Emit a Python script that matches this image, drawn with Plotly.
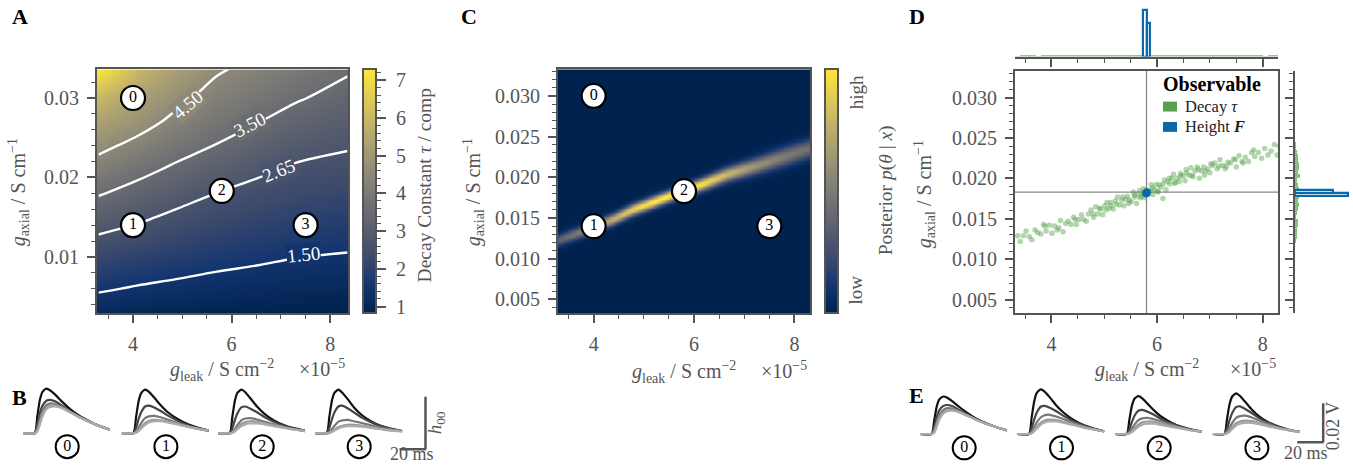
import numpy as np
import plotly.graph_objects as go
from plotly.colors import get_colorscale, sample_colorscale

W, H = 1353, 470
SERIF = "Liberation Serif"
GREY = "#555555"
GREEN = "#55a24a"
BLUE = "#0b68ab"

# ---------------- Panel A: decay constant map ----------------
tau_gleak = [3.3, 4.1, 4.9, 5.7, 6.5, 7.3, 8.35]
tau_gaxial = [0.003, 0.006, 0.009, 0.012, 0.015, 0.018, 0.021, 0.024, 0.027, 0.030, 0.0336]
tau_values = [
    [1.10, 1.00, 0.95, 0.90, 0.87, 0.84, 0.82],
    [1.58, 1.44, 1.34, 1.25, 1.19, 1.13, 1.09],
    [2.04, 1.88, 1.73, 1.60, 1.51, 1.42, 1.36],
    [2.51, 2.33, 2.12, 1.95, 1.82, 1.71, 1.63],
    [3.02, 2.77, 2.50, 2.29, 2.13, 1.99, 1.90],
    [3.56, 3.23, 2.92, 2.64, 2.44, 2.27, 2.17],
    [4.13, 3.72, 3.35, 3.05, 2.78, 2.56, 2.44],
    [4.72, 4.26, 3.81, 3.47, 3.16, 2.88, 2.71],
    [5.30, 4.84, 4.27, 3.83, 3.53, 3.23, 2.98],
    [6.00, 5.20, 4.70, 4.17, 3.86, 3.57, 3.25],
    [7.30, 6.00, 5.20, 4.60, 4.25, 3.95, 3.58],
]
tau_levels = [1.50, 2.65, 3.50, 4.50]
tau_range = [0.82, 7.29]
# contour label placement (g_leak, g_axial, angle in degrees)
label_gleak = [7.46, 6.96, 6.37, 5.11]
label_gaxial = [0.0103, 0.0209, 0.0267, 0.0292]
label_angle = [-6, -22, -27, -40]

# labelled parameter sets
point_labels = ["0", "1", "2", "3"]
point_gleak = [4.0, 4.0, 5.8, 7.5]
point_gaxial = [0.030, 0.014, 0.0183, 0.014]

# ---------------- Panel C: posterior ridge ----------------
ridge_gleak = [3.25, 3.6, 4.0, 4.4, 4.8, 5.2, 5.8, 6.2, 6.65, 7.3, 7.8, 8.4]
ridge_gaxial = [0.0121, 0.0129, 0.0138, 0.0148, 0.0160, 0.0169, 0.0183, 0.0192, 0.0203, 0.0215, 0.0225, 0.0237]
ridge_peak = [0.35, 0.45, 0.60, 0.75, 0.90, 1.00, 1.00, 0.95, 0.80, 0.60, 0.50, 0.42]
ridge_width = [0.0005, 0.0005, 0.0005, 0.0005, 0.0005, 0.0005, 0.0005, 0.00055, 0.0006, 0.0007, 0.0008, 0.0008]

# ---------------- Panel D: posterior samples ----------------
decay_gleak = [3.36, 3.41, 3.47, 3.52, 3.58, 3.63, 3.69, 3.74, 3.80, 3.85,
               3.90, 3.96, 4.01, 4.06, 4.11, 4.17, 4.22, 4.27, 4.32, 4.37,
               4.42, 4.47, 4.52, 4.57, 4.61, 4.66, 4.70, 4.75, 4.79, 4.84,
               4.88, 4.93, 4.97, 5.01, 5.05, 5.09, 5.13, 5.17, 5.21, 5.25,
               5.29, 5.33, 5.37, 5.41, 5.44, 5.48, 5.51, 5.55, 5.58, 5.61,
               5.64, 5.67, 5.70, 5.73, 5.76, 5.79, 5.83, 5.86, 5.89, 5.92,
               5.95, 5.98, 6.01, 6.04, 6.07, 6.11, 6.14, 6.17, 6.21, 6.24,
               6.28, 6.31, 6.35, 6.38, 6.42, 6.45, 6.49, 6.53, 6.56, 6.60,
               6.64, 6.68, 6.72, 6.76, 6.80, 6.84, 6.88, 6.92, 6.96, 7.00,
               7.05, 7.09, 7.14, 7.19, 7.24, 7.29, 7.34, 7.39, 7.45, 7.50,
               7.55, 7.61, 7.67, 7.73, 7.79, 7.85, 7.92, 7.98, 8.04, 8.10,
               8.16, 8.22, 8.27, 8.31,
               5.03, 5.12, 5.23, 5.35, 5.46, 5.57, 5.68, 5.74, 5.81, 5.91,
               6.02, 6.12, 6.23, 6.33, 6.44, 6.55, 6.66, 6.78, 6.90, 7.02,
               7.17, 7.31, 7.48, 7.63, 7.83,
               4.45, 4.14, 3.88, 4.80, 4.91]
decay_gaxial = [0.0129, 0.0122, 0.0129, 0.0135, 0.0128, 0.0124, 0.0136, 0.0133, 0.0131, 0.0143,
                0.0135, 0.0142, 0.0132, 0.0141, 0.0136, 0.0148, 0.0134, 0.0144, 0.0147, 0.0143,
                0.0152, 0.0143, 0.0149, 0.0155, 0.0149, 0.0147, 0.0156, 0.0161, 0.0156, 0.0165,
                0.0156, 0.0162, 0.0155, 0.0166, 0.0170, 0.0163, 0.0166, 0.0162, 0.0172, 0.0177,
                0.0167, 0.0173, 0.0166, 0.0174, 0.0178, 0.0173, 0.0171, 0.0183, 0.0177, 0.0169,
                0.0181, 0.0185, 0.0178, 0.0182, 0.0176, 0.0186, 0.0180, 0.0185, 0.0192, 0.0180,
                0.0186, 0.0192, 0.0184, 0.0192, 0.0189, 0.0175, 0.0198, 0.0186, 0.0196, 0.0193,
                0.0200, 0.0205, 0.0195, 0.0200, 0.0196, 0.0206, 0.0203, 0.0197, 0.0207, 0.0204,
                0.0213, 0.0202, 0.0209, 0.0214, 0.0200, 0.0209, 0.0214, 0.0209, 0.0212, 0.0207,
                0.0216, 0.0219, 0.0212, 0.0223, 0.0216, 0.0212, 0.0220, 0.0219, 0.0224, 0.0214,
                0.0228, 0.0221, 0.0226, 0.0221, 0.0232, 0.0227, 0.0232, 0.0225, 0.0237, 0.0229,
                0.0234, 0.0242, 0.0229, 0.0240,
                0.0161, 0.0170, 0.0168, 0.0177, 0.0169, 0.0179, 0.0176, 0.0187, 0.0181, 0.0188,
                0.0183, 0.0193, 0.0200, 0.0194, 0.0203, 0.0211, 0.0204, 0.0211, 0.0204, 0.0218,
                0.0215, 0.0215, 0.0223, 0.0219, 0.0235,
                0.0149, 0.0139, 0.0141, 0.0152, 0.0163]
height_gleak = [5.77, 5.78, 5.79, 5.80, 5.80, 5.81, 5.82, 5.82, 5.79, 5.81, 5.78, 5.83]
height_gaxial = [0.0181, 0.0183, 0.0182, 0.0181, 0.0183, 0.0182, 0.0181, 0.0183, 0.0180, 0.0184, 0.0182, 0.0183]
target_gleak = 5.80
target_gaxial = 0.0183
legend_names = ["Decay <i>τ</i>", "Height <b><i>F</i></b>"]

# ---------------- Panels B / E: traces per compartment ----------------
t_ms = [0, 9, 11, 13, 15, 18, 21, 25, 30, 36, 43, 51, 59, 67]
trace_colors = ["#111111", "#444444", "#777777", "#999999", "#aaaaaa"]
B0 = [[0, 0, 0.38, 0.75, 0.93, 1.00, 0.96, 0.86, 0.71, 0.55, 0.40, 0.27, 0.16, 0.08],
      [0, 0, 0.18, 0.45, 0.62, 0.73, 0.75, 0.71, 0.62, 0.50, 0.38, 0.26, 0.16, 0.08],
      [0, 0, 0.10, 0.32, 0.50, 0.63, 0.67, 0.65, 0.59, 0.49, 0.37, 0.26, 0.16, 0.08],
      [0, 0, 0.06, 0.24, 0.42, 0.57, 0.62, 0.62, 0.57, 0.48, 0.37, 0.26, 0.16, 0.08],
      [0, 0, 0.04, 0.20, 0.38, 0.54, 0.59, 0.60, 0.56, 0.47, 0.36, 0.26, 0.16, 0.08]]
B1 = [[0, 0, 0.35, 0.72, 0.90, 0.98, 0.93, 0.80, 0.63, 0.46, 0.32, 0.20, 0.12, 0.06],
      [0, 0, 0.12, 0.32, 0.47, 0.60, 0.62, 0.58, 0.50, 0.39, 0.28, 0.18, 0.11, 0.06],
      [0, 0, 0.04, 0.13, 0.23, 0.34, 0.38, 0.39, 0.36, 0.30, 0.23, 0.16, 0.10, 0.06],
      [0, 0, 0.02, 0.07, 0.14, 0.23, 0.28, 0.30, 0.29, 0.26, 0.21, 0.15, 0.10, 0.06],
      [0, 0, 0.01, 0.05, 0.11, 0.19, 0.24, 0.27, 0.27, 0.24, 0.20, 0.14, 0.10, 0.06]]
B2 = [[0, 0, 0.36, 0.73, 0.91, 0.98, 0.92, 0.78, 0.60, 0.43, 0.29, 0.18, 0.11, 0.06],
      [0, 0, 0.11, 0.30, 0.45, 0.58, 0.60, 0.55, 0.47, 0.36, 0.26, 0.17, 0.10, 0.06],
      [0, 0, 0.03, 0.10, 0.19, 0.29, 0.33, 0.34, 0.31, 0.26, 0.20, 0.14, 0.09, 0.05],
      [0, 0, 0.01, 0.06, 0.12, 0.21, 0.25, 0.27, 0.26, 0.22, 0.18, 0.13, 0.09, 0.05],
      [0, 0, 0.01, 0.04, 0.09, 0.16, 0.20, 0.22, 0.22, 0.20, 0.16, 0.12, 0.08, 0.05]]
B3 = [[0, 0, 0.36, 0.73, 0.91, 0.98, 0.91, 0.77, 0.58, 0.41, 0.27, 0.16, 0.10, 0.05],
      [0, 0, 0.12, 0.31, 0.47, 0.60, 0.62, 0.56, 0.47, 0.35, 0.25, 0.16, 0.09, 0.05],
      [0, 0, 0.03, 0.09, 0.17, 0.26, 0.29, 0.30, 0.27, 0.23, 0.18, 0.12, 0.08, 0.05],
      [0, 0, 0.01, 0.04, 0.08, 0.14, 0.17, 0.19, 0.19, 0.17, 0.14, 0.10, 0.07, 0.04],
      [0, 0, 0.00, 0.03, 0.06, 0.11, 0.14, 0.16, 0.16, 0.15, 0.12, 0.09, 0.06, 0.04]]
E0 = [[0, 0, 0.32, 0.63, 0.78, 0.84, 0.81, 0.73, 0.61, 0.48, 0.35, 0.24, 0.15, 0.08],
      [0, 0, 0.16, 0.39, 0.54, 0.63, 0.65, 0.62, 0.54, 0.44, 0.33, 0.23, 0.15, 0.08],
      [0, 0, 0.09, 0.28, 0.43, 0.54, 0.58, 0.57, 0.51, 0.43, 0.33, 0.23, 0.15, 0.08],
      [0, 0, 0.05, 0.21, 0.37, 0.49, 0.53, 0.54, 0.50, 0.42, 0.32, 0.23, 0.15, 0.08],
      [0, 0, 0.03, 0.17, 0.33, 0.46, 0.51, 0.52, 0.49, 0.41, 0.32, 0.23, 0.15, 0.08]]
E1 = [[0, 0, 0.36, 0.73, 0.92, 1.00, 0.95, 0.82, 0.64, 0.47, 0.32, 0.20, 0.12, 0.06],
      [0, 0, 0.12, 0.32, 0.48, 0.61, 0.63, 0.59, 0.51, 0.40, 0.29, 0.19, 0.11, 0.06],
      [0, 0, 0.05, 0.15, 0.26, 0.37, 0.42, 0.43, 0.39, 0.33, 0.25, 0.17, 0.11, 0.06],
      [0, 0, 0.02, 0.08, 0.16, 0.25, 0.30, 0.32, 0.31, 0.27, 0.22, 0.15, 0.10, 0.06],
      [0, 0, 0.01, 0.06, 0.12, 0.21, 0.26, 0.28, 0.28, 0.25, 0.20, 0.14, 0.10, 0.06]]
E2 = [[0, 0, 0.31, 0.63, 0.79, 0.85, 0.80, 0.68, 0.53, 0.38, 0.26, 0.16, 0.10, 0.06],
      [0, 0, 0.10, 0.27, 0.41, 0.52, 0.54, 0.50, 0.43, 0.33, 0.24, 0.16, 0.09, 0.05],
      [0, 0, 0.04, 0.12, 0.21, 0.31, 0.35, 0.36, 0.33, 0.28, 0.21, 0.14, 0.09, 0.05],
      [0, 0, 0.02, 0.06, 0.13, 0.21, 0.26, 0.28, 0.27, 0.23, 0.18, 0.13, 0.08, 0.05],
      [0, 0, 0.01, 0.04, 0.09, 0.16, 0.21, 0.23, 0.23, 0.20, 0.16, 0.12, 0.08, 0.05]]
E3 = [[0, 0, 0.33, 0.67, 0.84, 0.91, 0.85, 0.72, 0.55, 0.39, 0.26, 0.16, 0.09, 0.05],
      [0, 0, 0.12, 0.31, 0.47, 0.60, 0.62, 0.56, 0.47, 0.35, 0.25, 0.16, 0.09, 0.05],
      [0, 0, 0.05, 0.14, 0.25, 0.36, 0.40, 0.41, 0.37, 0.30, 0.22, 0.14, 0.09, 0.05],
      [0, 0, 0.02, 0.07, 0.15, 0.24, 0.28, 0.30, 0.29, 0.25, 0.19, 0.13, 0.08, 0.05],
      [0, 0, 0.01, 0.05, 0.11, 0.19, 0.23, 0.25, 0.25, 0.22, 0.17, 0.12, 0.08, 0.04]]

# ---------------- helpers ----------------
TICK_SIZE = 20
TITLE_SIZE = 20


def xd(a, b):
    return [a / W, b / W]


def yd(top, bottom):
    return [1 - bottom / H, 1 - top / H]


def PX(x):
    return x / W


def PY(y):
    return 1 - y / H


def colorbar(x0):
    return dict(x=x0 / W, xanchor="left", y=PY(193), yanchor="middle", len=246 / H,
                lenmode="fraction", thickness=13, thicknessmode="pixels", xpad=0, ypad=0,
                outlinewidth=2, outlinecolor=GREY, ticks="", showticklabels=False)


def main_axis(domain, anchor, rng, dtick, minor, fmt=None, labels=True, mirror=True):
    d = dict(domain=domain, anchor=anchor, range=rng, dtick=dtick, tick0=0,
             showline=True, linecolor=GREY, linewidth=2, mirror=mirror,
             ticks="outside", ticklen=8, tickwidth=1.6, tickcolor=GREY,
             showticklabels=labels,
             tickfont=dict(family=SERIF, size=TICK_SIZE, color=GREY),
             showgrid=False, zeroline=False, ticklabelstandoff=4,
             minor=dict(ticks="outside", ticklen=4, tickwidth=1, tickcolor=GREY,
                        dtick=minor, showgrid=False))
    if fmt:
        d["tickformat"] = fmt
    return d


fig = go.Figure()

# ---------------- A ----------------
fig.add_trace(go.Heatmap(x=tau_gleak, y=tau_gaxial, z=tau_values, colorscale="Cividis",
                         zmin=tau_range[0], zmax=tau_range[1], zsmooth="best",
                         colorbar=colorbar(363), hoverinfo="skip", showlegend=False,
                         xaxis="x", yaxis="y"))
for lev in tau_levels:
    fig.add_trace(go.Contour(x=tau_gleak, y=tau_gaxial, z=tau_values, autocontour=False,
                             contours=dict(start=lev, end=lev, size=1, coloring="none",
                                           showlabels=False),
                             line=dict(color="white", width=2.4), showscale=False,
                             showlegend=False, hoverinfo="skip", xaxis="x", yaxis="y"))

# colorbar tick overlay for A
fig.add_trace(go.Scatter(x=[0.5], y=[4], mode="markers", marker=dict(opacity=0),
                         hoverinfo="skip", showlegend=False, xaxis="x2", yaxis="y2"))


def circles(xs, ys, labels, xa, ya):
    return go.Scatter(x=xs, y=ys, text=labels, mode="markers+text", textposition="middle center",
                      marker=dict(size=24, color="white", line=dict(color="black", width=2.2)),
                      textfont=dict(family=SERIF, size=16, color="black"),
                      cliponaxis=False, hoverinfo="skip", showlegend=False, xaxis=xa, yaxis=ya)


fig.add_trace(circles(point_gleak, point_gaxial, point_labels, "x", "y"))

# ---------------- C ----------------
gx = np.linspace(3.2, 8.4, 261)
gy = np.linspace(0.003, 0.034, 311)
c_center = np.interp(gx, ridge_gleak, ridge_gaxial)
c_peak = np.interp(gx, ridge_gleak, ridge_peak)
c_width = np.interp(gx, ridge_gleak, ridge_width)
post = c_peak[None, :] * np.exp(-0.5 * ((gy[:, None] - c_center[None, :]) / c_width[None, :]) ** 2)
fig.add_trace(go.Heatmap(x=gx, y=gy, z=post, colorscale="Cividis", zmin=0, zmax=1,
                         colorbar=colorbar(825), hoverinfo="skip", showlegend=False,
                         xaxis="x3", yaxis="y3"))
fig.add_trace(circles(point_gleak, point_gaxial, point_labels, "x3", "y3"))

# ---------------- D ----------------
fig.add_trace(go.Scatter(x=decay_gleak, y=decay_gaxial, mode="markers", name=legend_names[0],
                         marker=dict(size=5.5, color=GREEN, opacity=0.45, line=dict(width=0)),
                         hoverinfo="skip", showlegend=False, xaxis="x4", yaxis="y4"))
fig.add_trace(go.Scatter(x=height_gleak, y=height_gaxial, mode="markers", name=legend_names[1],
                         marker=dict(size=6, color=BLUE, opacity=0.8, line=dict(width=0)),
                         hoverinfo="skip", showlegend=False, xaxis="x4", yaxis="y4"))

# marginals
fig.add_trace(go.Histogram(x=decay_gleak, histnorm="probability density", xbins=dict(size=0.1),
                           marker=dict(color=GREEN, opacity=0.6), showlegend=False,
                           hoverinfo="skip", xaxis="x5", yaxis="y5"))
fig.add_trace(go.Histogram(x=height_gleak, histnorm="probability density",
                           xbins=dict(start=5.735, end=5.875, size=0.07),
                           marker=dict(color="white", line=dict(color=BLUE, width=2.2)),
                           showlegend=False, hoverinfo="skip", xaxis="x5", yaxis="y5"))
fig.add_trace(go.Histogram(y=decay_gaxial, orientation="h", histnorm="probability density",
                           ybins=dict(size=0.0005), marker=dict(color=GREEN, opacity=0.7),
                           showlegend=False, hoverinfo="skip", xaxis="x6", yaxis="y6"))
fig.add_trace(go.Histogram(y=height_gaxial, orientation="h", histnorm="probability density",
                           ybins=dict(start=0.01789, end=0.01863, size=0.00037),
                           marker=dict(color="white", line=dict(color=BLUE, width=2.2)),
                           showlegend=False, hoverinfo="skip", xaxis="x6", yaxis="y6"))

# ---------------- B / E ----------------
groups_B = [B0, B1, B2, B3]
groups_E = [E0, E1, E2, E3]
B_starts = [23, 121.7, 218, 315]
E_starts = [920, 1017.3, 1115, 1212.7]
PXMS = 1.3
PXU = 45.0
layout_axes = {}
shapes = []
ax_id = 7
for panel, groups, starts, base, circ_y in (("B", groups_B, B_starts, 437.0, -0.3),
                                            ("E", groups_E, E_starts, 437.7, -0.31)):
    for gi, (grp, x0) in enumerate(zip(groups, starts)):
        tmax = 90 if gi == 3 else 67
        xa, ya = "x%d" % ax_id, "y%d" % ax_id
        ylo, yhi = -0.7, 1.1
        layout_axes["xaxis%d" % ax_id] = dict(domain=xd(x0, x0 + tmax * PXMS), range=[0, tmax],
                                              anchor=ya, visible=False)
        layout_axes["yaxis%d" % ax_id] = dict(domain=yd(base - yhi * PXU, base - ylo * PXU),
                                              range=[ylo, yhi], anchor=xa, visible=False)
        for k, vals in enumerate(grp):
            fig.add_trace(go.Scatter(x=t_ms, y=vals, mode="lines",
                                     line=dict(color=trace_colors[k], width=2.2, shape="spline",
                                               smoothing=0.6),
                                     hoverinfo="skip", showlegend=False, xaxis=xa, yaxis=ya))
        fig.add_trace(go.Scatter(x=[34], y=[circ_y], text=[point_labels[gi]], mode="markers+text",
                                 textposition="middle center",
                                 marker=dict(size=23, color="white", line=dict(color="black", width=2)),
                                 textfont=dict(family=SERIF, size=16, color="black"),
                                 cliponaxis=False, hoverinfo="skip", showlegend=False,
                                 xaxis=xa, yaxis=ya))
        if gi == 3:
            sb_lo = -0.356 if panel == "B" else -0.184
            sb_hi = 0.82 if panel == "B" else 0.69
            shapes += [
                dict(type="line", xref=xa, yref=ya, x0=65, x1=85.3, y0=sb_lo, y1=sb_lo,
                     line=dict(color=GREY, width=2.5)),
                dict(type="line", xref=xa, yref=ya, x0=85, x1=85, y0=sb_lo, y1=sb_hi,
                     line=dict(color=GREY, width=2.5)),
            ]
        ax_id += 1

shapes += [
    dict(type="line", xref="x4", yref="y4 domain", x0=target_gleak, x1=target_gleak, y0=0, y1=1,
         line=dict(color="#888888", width=1.3), layer="below"),
    dict(type="line", xref="x4 domain", yref="y4", x0=0, x1=1, y0=target_gaxial, y1=target_gaxial,
         line=dict(color="#888888", width=1.3), layer="below"),
]
# legend keys for panel D (drawn by hand for matplotlib-like spacing)
for key_col, key_top in ((GREEN, 102.5), (BLUE, 123)):
    shapes.append(dict(type="rect", xref="paper", yref="paper", x0=PX(1163), x1=PX(1177),
                       y0=PY(key_top + 10), y1=PY(key_top), fillcolor=key_col,
                       line=dict(width=0)))

# ---------------- annotations ----------------
def ann(x, y, text, size=18, color=GREY, angle=0, bold=False, xanchor="center"):
    return dict(x=PX(x), y=PY(y), xref="paper", yref="paper", text=("<b>%s</b>" % text) if bold else text,
                showarrow=False, textangle=angle, xanchor=xanchor, yanchor="middle",
                font=dict(family=SERIF, size=size, color=color))


ytitle = "<i>g</i><sub>axial</sub> / S cm<sup>−1</sup>"
xtitle = "<i>g</i><sub>leak</sub> / S cm<sup>−2</sup>"
xoffset = "×10<sup>−5</sup>"
annotations = [
    ann(20, 17, "A", 22, "black", bold=True),
    ann(19, 401, "B", 22, "black", bold=True),
    ann(469, 17, "C", 22, "black", bold=True),
    ann(917, 17, "D", 22, "black", bold=True),
    ann(916, 399, "E", 22, "black", bold=True),
    ann(19, 194, ytitle, TITLE_SIZE, angle=-90),
    ann(474, 194, ytitle, TITLE_SIZE, angle=-90),
    ann(925, 196, ytitle, TITLE_SIZE, angle=-90),
    ann(222, 373, xtitle, TITLE_SIZE),
    ann(684, 375, xtitle, TITLE_SIZE),
    ann(1147, 373, xtitle, TITLE_SIZE),
    ann(347, 371, xoffset, TITLE_SIZE, xanchor="right"),
    ann(809, 373, xoffset, TITLE_SIZE, xanchor="right"),
    ann(1278, 371, xoffset, TITLE_SIZE, xanchor="right"),
    ann(424, 187, "Decay Constant <i>τ</i> / comp", 19.5, angle=-90),
    ann(886, 192, "Posterior <i>p</i>(<i>θ</i> | <i>x</i>)", 19.5, angle=-90),
    ann(856, 93, "high", 19, angle=-90),
    ann(856, 293, "low", 19, angle=-90),
    ann(436, 427, "<i>h</i><sub>00</sub>", 19, angle=-90),
    ann(412, 458, "20 ms", 18),
    ann(1333, 430, "0.02 V", 18, angle=-90),
    ann(1306, 457, "20 ms", 18),
    ann(1212, 85, "Observable", 20, "black", bold=True),
    ann(1183, 107.5, legend_names[0], 16.5, "#222222", xanchor="left"),
    ann(1183, 128, legend_names[1], 16.5, "#222222", xanchor="left"),
]

# contour labels placed along the lines, with a gap in the line like a clabel
cividis = get_colorscale("Cividis")
for lev, lx, ly, la in zip(tau_levels, label_gleak, label_gaxial, label_angle):
    frac = (lev - tau_range[0]) / (tau_range[1] - tau_range[0])
    bg = sample_colorscale(cividis, [frac])[0]
    annotations.append(dict(x=lx, y=ly, xref="x", yref="y", text="%.2f" % lev, showarrow=False,
                            textangle=la, bgcolor=bg, borderpad=0,
                            font=dict(family=SERIF, size=19, color="white")))

layout = dict(
    width=W, height=H, autosize=False, margin=dict(l=0, r=0, t=0, b=0),
    paper_bgcolor="white", plot_bgcolor="rgba(0,0,0,0)",
    font=dict(family=SERIF, color=GREY), barmode="overlay", bargap=0,
    showlegend=False,
    xaxis=main_axis(xd(97, 348), "y", [3.27, 8.36], 2, 0.5),
    yaxis=main_axis(yd(70, 316), "x", [0.0029, 0.0336], 0.01, 0.002, ".2f"),
    xaxis2=dict(domain=xd(363, 376), anchor="y2", range=[0, 1], visible=False),
    yaxis2=dict(domain=yd(70, 316), anchor="x2", side="right", range=tau_range, dtick=1, tick0=0,
                ticks="outside", ticklen=9, tickwidth=1.6, tickcolor=GREY, showline=False,
                showgrid=False, zeroline=False, ticklabelstandoff=6,
                tickfont=dict(family=SERIF, size=TICK_SIZE, color=GREY),
                minor=dict(ticks="outside", ticklen=4, tickwidth=1, tickcolor=GREY, dtick=0.2)),
    xaxis3=main_axis(xd(558, 810), "y3", [3.29, 8.31], 2, 0.5),
    yaxis3=main_axis(yd(70, 316), "x3", [0.0033, 0.03325], 0.005, 0.001, ".3f"),
    xaxis4=main_axis(xd(1015, 1278), "y4", [3.31, 8.29], 2, 0.5),
    yaxis4=main_axis(yd(71.5, 316), "x4", [0.0033, 0.0333], 0.005, 0.001, ".3f"),
    xaxis5=main_axis(xd(1015, 1278), "y5", [3.31, 8.29], 2, 0.5, labels=False, mirror=False),
    yaxis5=dict(domain=yd(8, 57), anchor="x5", range=[0, 8.69], visible=False),
    xaxis6=dict(domain=xd(1295, 1353), anchor="y6", range=[0, 1726], visible=False),
    yaxis6=main_axis(yd(71.5, 316), "x6", [0.0033, 0.0333], 0.005, 0.001, labels=False, mirror=False),
    shapes=shapes,
    annotations=annotations,
)
layout.update(layout_axes)
fig.update_layout(**layout)

fig.write_html("out.html")
